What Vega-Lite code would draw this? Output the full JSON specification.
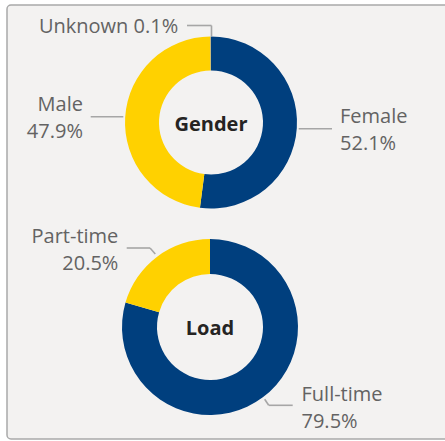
{
  "$schema": "https://vega.github.io/schema/vega-lite/v6.json",
  "width": 442,
  "height": 434,
  "autosize": {"type": "none"},
  "padding": {"left": 7, "top": 5, "right": -4, "bottom": 2},
  "background": "#ffffff",
  "config": {
    "view": {"fill": "#f3f2f1", "stroke": "#a9a9a9", "strokeWidth": 1.5, "cornerRadius": 4},
    "font": "Open Sans"
  },
  "datasets": {
    "slices": [
      {"chart": "Gender", "category": "Female", "pct": 52.1, "label": ["Female", "52.1%"]},
      {"chart": "Gender", "category": "Male", "pct": 47.9, "label": ["Male", "47.9%"]},
      {"chart": "Gender", "category": "Unknown", "pct": 0.1, "label": "Unknown 0.1%"},
      {"chart": "Load", "category": "Full-time", "pct": 79.5, "label": ["Full-time", "79.5%"]},
      {"chart": "Load", "category": "Part-time", "pct": 20.5, "label": ["Part-time", "20.5%"]}
    ],
    "charts": [{"chart": "Gender"}, {"chart": "Load"}]
  },
  "encoding": {
    "x": {"field": "chart", "type": "nominal", "scale": {"type": "point", "domain": ["Gender", "Load"], "range": [204, 203], "padding": 0}, "axis": null},
    "y": {"field": "chart", "type": "nominal", "scale": {"type": "point", "domain": ["Gender", "Load"], "range": [117.5, 322], "padding": 0}, "axis": null}
  },
  "layer": [
    {
      "data": {"name": "slices"},
      "transform": [{"filter": "datum.chart === 'Gender'"}],
      "mark": {"type": "arc", "outerRadius": 86, "innerRadius": 52},
      "encoding": {
        "theta": {"field": "pct", "type": "quantitative", "stack": true},
        "order": {"field": "category", "type": "nominal", "sort": "ascending"},
        "color": {"field": "category", "type": "nominal", "legend": null,
          "scale": {"domain": ["Female", "Male", "Unknown", "Full-time", "Part-time"], "range": ["#003f7e", "#ffd100", "#8c8c8c", "#003f7e", "#ffd100"]}}
      }
    },
    {
      "data": {"name": "slices"},
      "transform": [{"filter": "datum.chart === 'Gender'"}],
      "mark": {"type": "text", "radius": 129.3, "dy": -14, "align": "left", "baseline": "middle", "fontSize": 20, "lineHeight": 27.5, "color": "#636363"},
      "encoding": {
        "theta": {"field": "pct", "type": "quantitative", "stack": true},
        "order": {"field": "category", "type": "nominal", "sort": "ascending"},
        "text": {"condition": {"test": "datum.category === 'Female'", "field": "label"}, "value": ""}
      }
    },
    {
      "data": {"name": "slices"},
      "transform": [{"filter": "datum.chart === 'Gender'"}],
      "mark": {"type": "text", "radius": 128.3, "dy": -10, "align": "right", "baseline": "middle", "fontSize": 20, "lineHeight": 27, "color": "#636363"},
      "encoding": {
        "theta": {"field": "pct", "type": "quantitative", "stack": true},
        "order": {"field": "category", "type": "nominal", "sort": "ascending"},
        "text": {"condition": {"test": "datum.category === 'Male'", "field": "label"}, "value": ""}
      }
    },
    {
      "data": {"name": "slices"},
      "transform": [{"filter": "datum.chart === 'Gender'"}],
      "mark": {"type": "text", "radius": 95.8, "dx": -32.5, "align": "right", "baseline": "middle", "fontSize": 20, "color": "#636363"},
      "encoding": {
        "theta": {"field": "pct", "type": "quantitative", "stack": true},
        "order": {"field": "category", "type": "nominal", "sort": "ascending"},
        "text": {"condition": {"test": "datum.category === 'Unknown'", "field": "label"}, "value": ""}
      }
    },
    {
      "data": {"name": "slices"},
      "transform": [{"filter": "datum.chart === 'Load'"}],
      "mark": {"type": "arc", "outerRadius": 88, "innerRadius": 53},
      "encoding": {
        "theta": {"field": "pct", "type": "quantitative", "stack": true},
        "order": {"field": "category", "type": "nominal", "sort": "ascending"},
        "color": {"field": "category", "type": "nominal", "legend": null,
          "scale": {"domain": ["Female", "Male", "Unknown", "Full-time", "Part-time"], "range": ["#003f7e", "#ffd100", "#8c8c8c", "#003f7e", "#ffd100"]}}
      }
    },
    {
      "data": {"name": "slices"},
      "transform": [{"filter": "datum.chart === 'Load'"}],
      "mark": {"type": "text", "radius": 96, "dx": -34, "dy": -13.3, "align": "right", "baseline": "middle", "fontSize": 20, "lineHeight": 26.7, "color": "#636363"},
      "encoding": {
        "theta": {"field": "pct", "type": "quantitative", "stack": true},
        "order": {"field": "category", "type": "nominal", "sort": "ascending"},
        "text": {"condition": {"test": "datum.category === 'Part-time'", "field": "label"}, "value": ""}
      }
    },
    {
      "data": {"name": "slices"},
      "transform": [{"filter": "datum.chart === 'Load'"}],
      "mark": {"type": "text", "radius": 101.6, "dx": 30.5, "dy": -13.6, "align": "left", "baseline": "middle", "fontSize": 20, "lineHeight": 27.3, "color": "#636363"},
      "encoding": {
        "theta": {"field": "pct", "type": "quantitative", "stack": true},
        "order": {"field": "category", "type": "nominal", "sort": "ascending"},
        "text": {"condition": {"test": "datum.category === 'Full-time'", "field": "label"}, "value": ""}
      }
    },
    {
      "data": {"name": "charts"},
      "mark": {"type": "text", "align": "center", "baseline": "middle", "fontSize": 20, "fontWeight": "bold", "color": "#252423", "dy": 2},
      "encoding": {"text": {"field": "chart"}}
    },
    {
      "data": {"name": "charts"},
      "transform": [{"filter": "datum.chart === 'Gender'"}],
      "mark": {"type": "rule", "color": "#a6a6a6", "strokeWidth": 1.6, "xOffset": 87.7, "x2Offset": 121, "yOffset": 6.2, "y2Offset": 6.2},
      "encoding": {"x2": {"field": "chart"}, "y2": {"field": "chart"}}
    },
    {
      "data": {"name": "charts"},
      "transform": [{"filter": "datum.chart === 'Gender'"}],
      "mark": {"type": "rule", "color": "#a6a6a6", "strokeWidth": 1.6, "xOffset": -120.3, "x2Offset": -87.7, "yOffset": -5.8, "y2Offset": -5.8},
      "encoding": {"x2": {"field": "chart"}, "y2": {"field": "chart"}}
    },
    {
      "data": {"name": "charts"},
      "transform": [{"filter": "datum.chart === 'Gender'"}],
      "mark": {"type": "rule", "color": "#a6a6a6", "strokeWidth": 1.6, "xOffset": 0.5, "x2Offset": 0.5, "yOffset": -86.5, "y2Offset": -97},
      "encoding": {"x2": {"field": "chart"}, "y2": {"field": "chart"}}
    },
    {
      "data": {"name": "charts"},
      "transform": [{"filter": "datum.chart === 'Gender'"}],
      "mark": {"type": "rule", "color": "#a6a6a6", "strokeWidth": 1.6, "xOffset": 0.5, "x2Offset": -24, "yOffset": -97, "y2Offset": -97},
      "encoding": {"x2": {"field": "chart"}, "y2": {"field": "chart"}}
    },
    {
      "data": {"name": "charts"},
      "transform": [{"filter": "datum.chart === 'Load'"}],
      "mark": {"type": "rule", "color": "#a6a6a6", "strokeWidth": 1.6, "xOffset": -54.7, "x2Offset": -60, "yOffset": -73, "y2Offset": -79},
      "encoding": {"x2": {"field": "chart"}, "y2": {"field": "chart"}}
    },
    {
      "data": {"name": "charts"},
      "transform": [{"filter": "datum.chart === 'Load'"}],
      "mark": {"type": "rule", "color": "#a6a6a6", "strokeWidth": 1.6, "xOffset": -60, "x2Offset": -83.3, "yOffset": -79, "y2Offset": -79},
      "encoding": {"x2": {"field": "chart"}, "y2": {"field": "chart"}}
    },
    {
      "data": {"name": "charts"},
      "transform": [{"filter": "datum.chart === 'Load'"}],
      "mark": {"type": "rule", "color": "#a6a6a6", "strokeWidth": 1.6, "xOffset": 54.7, "x2Offset": 58.7, "yOffset": 72.3, "y2Offset": 78.3},
      "encoding": {"x2": {"field": "chart"}, "y2": {"field": "chart"}}
    },
    {
      "data": {"name": "charts"},
      "transform": [{"filter": "datum.chart === 'Load'"}],
      "mark": {"type": "rule", "color": "#a6a6a6", "strokeWidth": 1.6, "xOffset": 58.7, "x2Offset": 82.7, "yOffset": 78.3, "y2Offset": 78.3},
      "encoding": {"x2": {"field": "chart"}, "y2": {"field": "chart"}}
    }
  ],
  "resolve": {"scale": {"theta": "independent"}}
}
